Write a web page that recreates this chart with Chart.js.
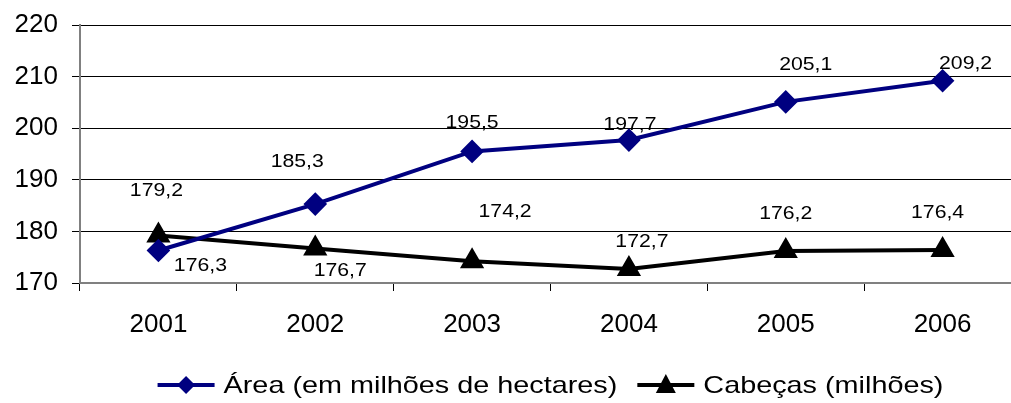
<!DOCTYPE html>
<html>
<head>
<meta charset="utf-8">
<script src="https://cdn.jsdelivr.net/npm/chart.js@4/dist/chart.umd.min.js"></script>
<style>
  html, body { margin: 0; padding: 0; background: #fff; overflow: hidden; }
  #wrap { width: 1011px; height: 403px; overflow: hidden; }
</style>
</head>
<body>
<div id="wrap"><canvas id="chart" width="1035" height="403"></canvas></div>
<script>
// chart values
const years = ["2001", "2002", "2003", "2004", "2005", "2006"];
const areaValues = [176.3, 185.3, 195.5, 197.7, 205.1, 209.2];
const cabecasValues = [179.2, 176.7, 174.2, 172.7, 176.2, 176.4];
const yTicks = [170, 180, 190, 200, 210, 220];

// label nudges (px) from each point, as placed in the original
const areaLabelOffsets = [[42, 16], [-18, -42], [0, -28], [1, -15], [20, -37], [23, -17]];
const cabecasLabelOffsets = [[-2, -44], [25, 23], [33, -49], [13, -27], [0, -37], [-5, -37]];

const navy = "#000080";
const FONT = "'Liberation Sans', Arial, sans-serif";

// the original's text is drawn a little wide, so stretch it horizontally
function wideText(ctx, txt, x, y, sx) {
    ctx.save();
    ctx.translate(x, y);
    ctx.scale(sx, 1);
    ctx.fillText(txt, 0, 0);
    ctx.restore();
}

const pointLabels = {
    id: "pointLabels",
    afterDatasetsDraw(chart) {
        const ctx = chart.ctx;
        const offsets = [areaLabelOffsets, cabecasLabelOffsets];
        ctx.save();
        ctx.font = "18px " + FONT;
        ctx.fillStyle = "#000";
        ctx.textAlign = "center";
        ctx.textBaseline = "middle";
        chart.data.datasets.forEach((ds, i) => {
            chart.getDatasetMeta(i).data.forEach((pt, j) => {
                const txt = ds.data[j].toFixed(1).replace(".", ",");
                wideText(ctx, txt, pt.x + offsets[i][j][0], pt.y + offsets[i][j][1], 1.18);
            });
        });
        ctx.restore();
    }
};

// legend: short line with marker, then the label, centred under the plot
const lineLegend = {
    id: "lineLegend",
    afterDraw(chart) {
        const ctx = chart.ctx;
        const area = chart.chartArea;
        const y = 385;
        const sx = 1.2;
        const lineW = 57, gap = 9, itemGap = 20;
        ctx.save();
        ctx.font = "24px " + FONT;
        ctx.textBaseline = "middle";
        ctx.textAlign = "left";
        const items = chart.data.datasets.map(ds => ({
            ds: ds,
            w: ctx.measureText(ds.label).width * sx,
        }));
        let total = 0;
        items.forEach((it, i) => { total += lineW + gap + it.w + (i ? itemGap : 0); });
        let x = (area.left + area.right) / 2 - total / 2;
        items.forEach((it, i) => {
            if (i) x += itemGap;
            const ds = it.ds;
            ctx.strokeStyle = ds.borderColor;
            ctx.fillStyle = ds.backgroundColor;
            ctx.lineWidth = 4;
            ctx.beginPath();
            ctx.moveTo(x, y);
            ctx.lineTo(x + lineW, y);
            ctx.stroke();
            const cx = x + lineW / 2;
            ctx.beginPath();
            if (ds.pointStyle === "rectRot") {
                ctx.moveTo(cx, y - 9); ctx.lineTo(cx + 9, y); ctx.lineTo(cx, y + 9); ctx.lineTo(cx - 9, y);
            } else {
                ctx.moveTo(cx, y - 11); ctx.lineTo(cx + 10, y + 8); ctx.lineTo(cx - 10, y + 8);
            }
            ctx.closePath();
            ctx.fill();
            x += lineW + gap;
            ctx.fillStyle = "#000";
            wideText(ctx, ds.label, x, y + 1, sx);
            x += it.w;
        });
        ctx.restore();
    }
};

const chartData = {
    labels: years,
    datasets: [
        {
            label: "Área (em milhões de hectares)",
            data: areaValues,
            borderColor: navy,
            backgroundColor: navy,
            borderWidth: 4,
            pointStyle: "rectRot",
            pointRadius: 9,
            pointHoverRadius: 9,
            tension: 0,
        },
        {
            label: "Cabeças (milhões)",
            data: cabecasValues,
            borderColor: "#000",
            backgroundColor: "#000",
            borderWidth: 4,
            pointStyle: "triangle",
            pointRadius: 10,
            pointHoverRadius: 10,
            tension: 0,
        },
    ],
};

const chartConfig = {
    type: "line",
    data: chartData,
    plugins: [pointLabels, lineLegend],
    options: {
        responsive: false,
        devicePixelRatio: 1,
        animation: false,
        layout: { padding: { top: 0, right: 0, bottom: 46, left: 0 } },
        plugins: {
            tooltip: { enabled: false },
            legend: { display: false },
        },
        scales: {
            x: {
                offset: true,
                grid: {
                    offset: true,
                    drawOnChartArea: false,
                    color: "#000",
                    tickLength: 8,
                },
                border: { color: "#808080", width: 2 },
                ticks: {
                    color: "#000",
                    padding: 18,
                    font: { family: FONT, size: 26 },
                },
                afterFit(scale) { scale.height = 74; },
            },
            y: {
                min: 170,
                max: 220,
                afterBuildTicks(scale) {
                    scale.ticks = yTicks.map(v => ({ value: v }));
                },
                grid: { color: "#000", lineWidth: 1, tickLength: 8 },
                border: { color: "#808080", width: 2 },
                ticks: {
                    color: "#000",
                    padding: 14,
                    font: { family: FONT, size: 26 },
                },
                afterFit(scale) {
                    scale.width = 80;
                    scale.paddingTop = 25;
                    scale.paddingBottom = 0;
                },
            },
        },
    },
};

const chart = new Chart(document.getElementById("chart"), chartConfig);
</script>
</body>
</html>
